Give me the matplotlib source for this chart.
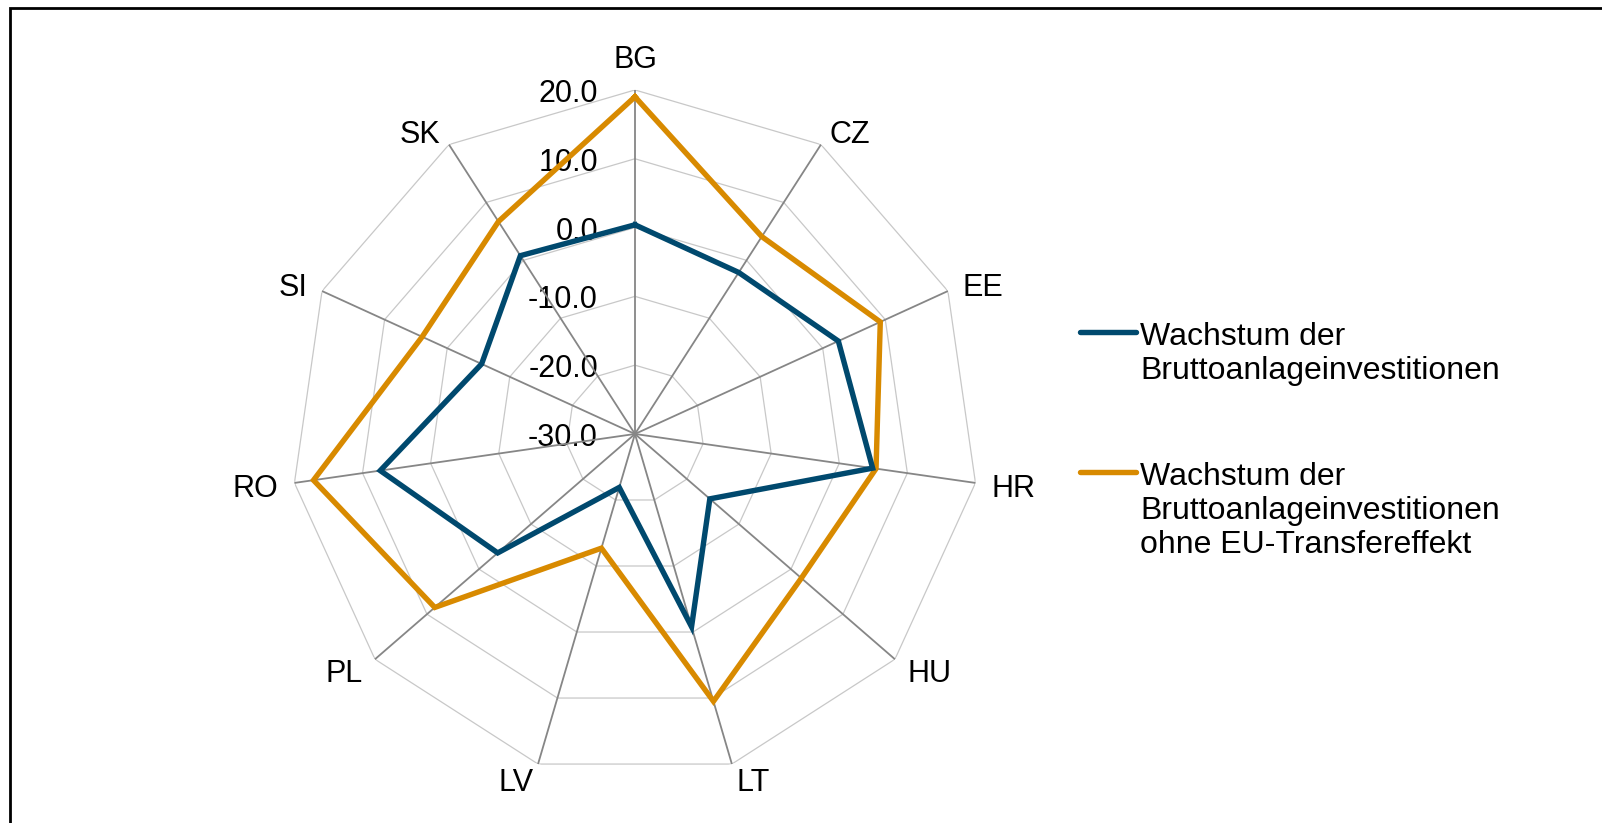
import numpy as np
import matplotlib.pyplot as plt
from matplotlib.lines import Line2D
from matplotlib.patches import Rectangle

plt.rcParams['font.family'] = ['Liberation Sans', 'DejaVu Sans']

# Data
countries = ['BG', 'CZ', 'EE', 'HR', 'HU', 'LT', 'LV', 'PL', 'RO', 'SI', 'SK']
growth = [0.4, -2.1, 2.5, 4.9, -15.6, -0.8, -21.9, -3.6, 7.4, -5.5, 0.8]
growth_no_eu = [19.0, 4.1, 9.2, 5.4, 2.0, 10.5, -12.7, 8.5, 17.2, 4.0, 6.7]
levels = [-30, -20, -10, 0, 10, 20]
labels = ['Wachstum der\nBruttoanlageinvestitionen',
          'Wachstum der\nBruttoanlageinvestitionen\nohne EU-Transfereffekt']

blue = '#00496e'
orange = '#d88a00'

n = len(countries)
theta = np.linspace(0, 2 * np.pi, n, endpoint=False)
theta_c = np.append(theta, theta[0])

fig = plt.figure(figsize=(16.02, 8.23), dpi=100)
ax = fig.add_axes([0.1816, 0.0547, 0.4295, 0.836], projection='polar')
ax.set_theta_zero_location('N')
ax.set_theta_direction(-1)
ax.set_ylim(levels[0], levels[-1])
ax.grid(False)
ax.set_xticks([])
ax.set_yticks([])
ax.spines['polar'].set_visible(False)
ax.patch.set_alpha(0)

# polygon grid rings
for lv in levels[1:]:
    ax.plot(theta_c, [lv] * (n + 1), color='#c8c8c8', lw=0.9, zorder=1)
# spokes
for t in theta:
    ax.plot([t, t], [levels[0], levels[-1]], color='#868686', lw=1.3, zorder=2)

# radial tick labels
for lv in levels:
    ax.annotate(f'{lv:.1f}', xy=(0, lv), xytext=(-37, -4), textcoords='offset pixels',
                ha='right', va='center', fontsize=22, zorder=1)

# category labels
for t, c in zip(theta, countries):
    s, co = np.sin(t), np.cos(t)
    if abs(s) < 1e-6:
        off, ha = (0, 30), 'center'
    else:
        off = (16 * s, 16 * co - 4)
        ha = 'left' if s > 0 else 'right'
    ax.annotate(c, xy=(t, levels[-1]), xytext=off, textcoords='offset pixels',
                ha=ha, va='center', fontsize=22, annotation_clip=False)

ax.plot(theta_c, growth + growth[:1], color=blue, lw=3.9, zorder=4,
        solid_joinstyle='miter')
ax.plot(theta_c, growth_no_eu + growth_no_eu[:1], color=orange, lw=3.9, zorder=3,
        solid_joinstyle='miter')

# legend drawn by hand so the key sits on the first text line
W, H = 1602, 823
for y, col, lab in [(332, blue, labels[0]), (472, orange, labels[1])]:
    fig.add_artist(Line2D([1080 / W, 1136 / W], [1 - y / H, 1 - y / H], color=col,
                          lw=3.9, solid_capstyle='round'))
    fig.text(1140 / W, 1 - (y - 10) / H, lab, ha='left', va='top', fontsize=23,
             linespacing=1.18)

# frame
fig.add_artist(Rectangle((10 / W, -0.1), 1.2, 1 - 8 / H + 0.1, transform=fig.transFigure,
                         fill=False, edgecolor='black', lw=2))

fig.savefig('out.png', dpi=100)
